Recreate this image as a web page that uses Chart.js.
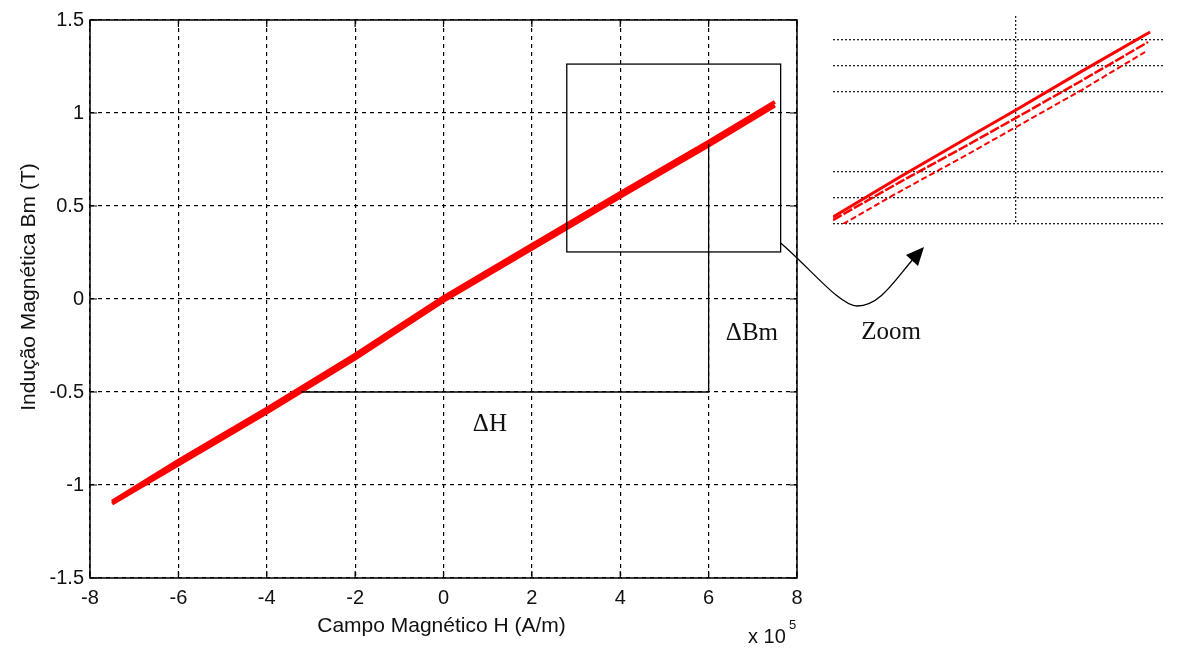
<!DOCTYPE html>
<html>
<head>
<meta charset="utf-8">
<script src="https://cdn.jsdelivr.net/npm/chart.js@4.4.1/dist/chart.umd.min.js"></script>
<style>
  body { margin: 0; background: #fff; }
  #wrap { position: relative; width: 1194px; height: 649px; }
  #mainChart { position: absolute; left: 0; top: 0; }
  #zoomChart { position: absolute; left: 831px; top: 14px; }
</style>
</head>
<body>
<div id="wrap">
  <canvas id="mainChart" width="1194" height="649"></canvas>
  <canvas id="zoomChart" width="336" height="212"></canvas>
</div>
<script>
// Main loop: H in units of 1e5 A/m, B in T
const hValues = [-7.5, -6, -4, -2, 0, 2, 4, 6, 7.5];
const bUpper = [-1.09, -0.87, -0.59, -0.30, 0.01, 0.29, 0.57, 0.845, 1.06];
const bLower = [-1.10, -0.89, -0.61, -0.32, -0.01, 0.27, 0.55, 0.825, 1.04];

const xTicks = [-8, -6, -4, -2, 0, 2, 4, 6, 8];
const yTicks = [-1.5, -1, -0.5, 0, 0.5, 1, 1.5];

// Annotation geometry (data units)
const zoomBoxH = [2.79, 7.63];
const zoomBoxB = [0.253, 1.263];
const deltaH = [-3.22, 6]; // horizontal line at B = -0.5
const deltaB = [-0.5, 0.835]; // vertical line at H = 6

// Zoom inset (normalised units)
const zoomTopX = [0, 0.2, 0.4, 0.551, 0.75, 0.955];
const zoomTopY = [0.034, 0.225, 0.41, 0.548, 0.735, 0.923];
const zoomMidX = [0, 0.2, 0.4, 0.551, 0.75, 0.949];
const zoomMidY = [0.019, 0.2, 0.375, 0.51, 0.69, 0.875];
const zoomLowX = [0.03, 0.2, 0.4, 0.551, 0.75, 0.94];
const zoomLowY = [0, 0.155, 0.33, 0.466, 0.645, 0.827];
const zoomGridX = [0.551];
const zoomGridY = [0, 0.125, 0.25, 0.635, 0.76, 0.885];

const toPoints = (xs, ys) => xs.map((x, i) => ({ x: x, y: ys[i] }));

const red = "#ff0000";
const ink = "#111111";

const decorPlugin = {
  id: "decor",
  afterDatasetsDraw(chart) {
    const { ctx, chartArea: a, scales } = chart;
    const sx = scales.x, sy = scales.y;
    ctx.save();
    // box
    ctx.strokeStyle = "#000";
    ctx.lineWidth = 1.5;
    ctx.setLineDash([]);
    ctx.strokeRect(a.left, a.top, a.right - a.left, a.bottom - a.top);
    // inward tick marks
    ctx.lineWidth = 1.2;
    xTicks.forEach((v) => {
      const px = sx.getPixelForValue(v);
      ctx.beginPath();
      ctx.moveTo(px, a.bottom); ctx.lineTo(px, a.bottom - 7);
      ctx.moveTo(px, a.top); ctx.lineTo(px, a.top + 7);
      ctx.stroke();
    });
    yTicks.forEach((v) => {
      const py = sy.getPixelForValue(v);
      ctx.beginPath();
      ctx.moveTo(a.left, py); ctx.lineTo(a.left + 7, py);
      ctx.moveTo(a.right, py); ctx.lineTo(a.right - 7, py);
      ctx.stroke();
    });

    // zoom rectangle
    ctx.lineWidth = 1.3;
    const x0 = sx.getPixelForValue(zoomBoxH[0]), x1 = sx.getPixelForValue(zoomBoxH[1]);
    const y0 = sy.getPixelForValue(zoomBoxB[1]), y1 = sy.getPixelForValue(zoomBoxB[0]);
    ctx.strokeRect(x0, y0, x1 - x0, y1 - y0);

    // delta H / delta B lines
    ctx.beginPath();
    ctx.moveTo(sx.getPixelForValue(deltaH[0]), sy.getPixelForValue(deltaB[0]));
    ctx.lineTo(sx.getPixelForValue(deltaH[1]), sy.getPixelForValue(deltaB[0]));
    ctx.lineTo(sx.getPixelForValue(deltaH[1]), sy.getPixelForValue(deltaB[1]));
    ctx.stroke();

    // labels
    ctx.fillStyle = ink;
    ctx.font = "25px 'Liberation Serif'";
    ctx.textAlign = "center";
    ctx.textBaseline = "alphabetic";
    ctx.fillText("\u0394H", sx.getPixelForValue(1.05), sy.getPixelForValue(-0.66) + 9);
    ctx.fillText("\u0394Bm", sx.getPixelForValue(6.98), sy.getPixelForValue(-0.17) + 9);
    ctx.fillText("Zoom", 891, 339);

    // curved arrow
    ctx.lineWidth = 1.3;
    ctx.beginPath();
    ctx.moveTo(x1, 243);
    ctx.bezierCurveTo(810, 268, 840, 306, 857, 306);
    ctx.bezierCurveTo(880, 306, 895, 280, 914, 258);
    ctx.stroke();
    ctx.fillStyle = "#000";
    ctx.beginPath();
    ctx.moveTo(924, 247);
    ctx.lineTo(918, 266);
    ctx.lineTo(906, 255);
    ctx.closePath();
    ctx.fill();

    // axis titles
    ctx.fillStyle = ink;
    ctx.font = "21px 'Liberation Sans'";
    ctx.textAlign = "center";
    ctx.fillText("Campo Magnético H (A/m)", (a.left + a.right) / 2 - 2, 632);
    ctx.save();
    ctx.translate(35, 287);
    ctx.rotate(-Math.PI / 2);
    ctx.fillText("Indução Magnética Bm (T)", 0, 0);
    ctx.restore();

    // exponent
    ctx.textAlign = "left";
    ctx.font = "20px 'Liberation Sans'";
    ctx.fillText("x 10", 748, 643);
    ctx.font = "13px 'Liberation Sans'";
    ctx.fillText("5", 789, 629);
    ctx.restore();
  },
};

new Chart(document.getElementById("mainChart"), {
  type: "scatter",
  data: {
    datasets: [
      {
        label: "Upper branch",
        data: toPoints(hValues, bUpper),
        showLine: true,
        borderColor: red,
        borderWidth: 4,
        pointRadius: 0,
      },
      {
        label: "Lower branch",
        data: toPoints(hValues, bLower),
        showLine: true,
        borderColor: red,
        borderWidth: 4,
        pointRadius: 0,
      },
    ],
  },
  options: {
    responsive: false,
    animation: false,
    layout: { padding: { left: 0, top: 20, right: 397, bottom: 0 } },
    plugins: { legend: { display: false }, tooltip: { enabled: false } },
    scales: {
      x: {
        type: "linear",
        min: -8,
        max: 8,
        afterFit: (s) => { s.height = 71; },
        afterBuildTicks: (s) => { s.ticks = xTicks.map((v) => ({ value: v })); },
        ticks: {
          color: ink,
          padding: 8,
          font: { family: "'Liberation Sans'", size: 20 },
          callback: (v) => String(v),
        },
        grid: { color: "#000", lineWidth: 1.2, drawTicks: false },
        border: { display: false, dash: [4, 4] },
      },
      y: {
        type: "linear",
        min: -1.5,
        max: 1.5,
        afterFit: (s) => { s.width = 90; },
        afterBuildTicks: (s) => { s.ticks = yTicks.map((v) => ({ value: v })); },
        ticks: {
          color: ink,
          padding: 6,
          font: { family: "'Liberation Sans'", size: 20 },
          callback: (v) => String(v),
        },
        grid: { color: "#000", lineWidth: 1.2, drawTicks: false },
        border: { display: false, dash: [4, 4] },
      },
    },
  },
  plugins: [decorPlugin],
});

new Chart(document.getElementById("zoomChart"), {
  type: "scatter",
  data: {
    datasets: [
      { data: toPoints(zoomTopX, zoomTopY), showLine: true, borderColor: red, borderWidth: 3, pointRadius: 0 },
      { data: toPoints(zoomMidX, zoomMidY), showLine: true, borderColor: red, borderWidth: 2.5, pointRadius: 0, borderDash: [10, 2] },
      { data: toPoints(zoomLowX, zoomLowY), showLine: true, borderColor: red, borderWidth: 2, pointRadius: 0, borderDash: [6, 3] },
    ],
  },
  options: {
    responsive: false,
    animation: false,
    layout: { padding: 2 },
    plugins: { legend: { display: false }, tooltip: { enabled: false } },
    scales: {
      x: {
        type: "linear",
        min: 0,
        max: 1,
        afterFit: (s) => { s.height = 0; },
        afterBuildTicks: (s) => { s.ticks = zoomGridX.map((v) => ({ value: v })); },
        ticks: { display: false },
        grid: { color: "#222", lineWidth: 1.3, drawTicks: false },
        border: { display: false, dash: [2, 2] },
      },
      y: {
        type: "linear",
        min: 0,
        max: 1,
        afterFit: (s) => { s.width = 0; },
        afterBuildTicks: (s) => { s.ticks = zoomGridY.map((v) => ({ value: v })); },
        ticks: { display: false },
        grid: { color: "#222", lineWidth: 1.3, drawTicks: false },
        border: { display: false, dash: [2, 2] },
      },
    },
  },
});
</script>
</body>
</html>
